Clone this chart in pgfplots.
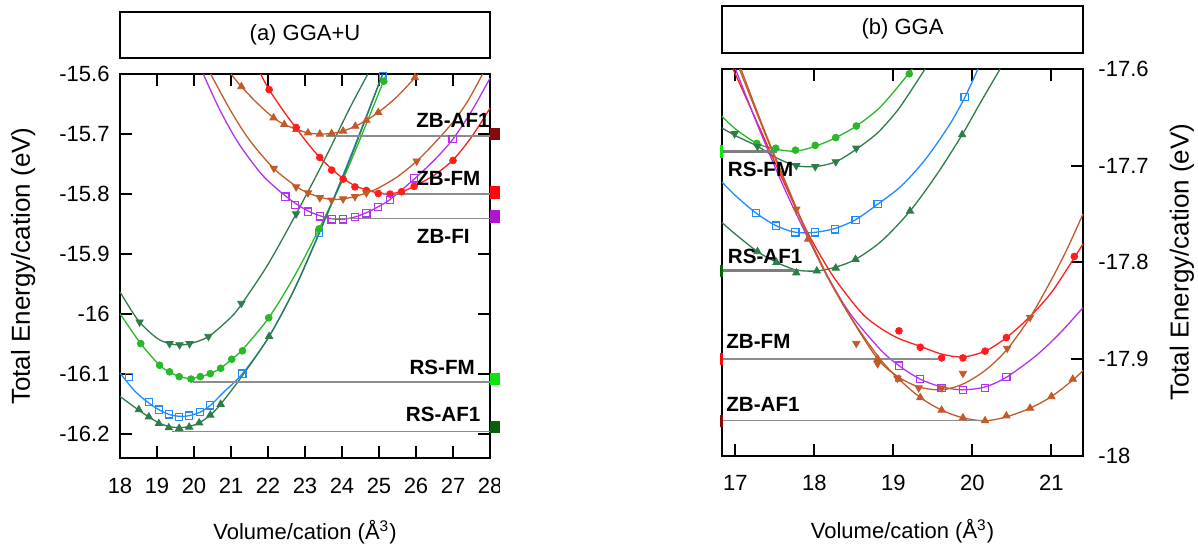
\documentclass[border=0pt]{standalone}
\usepackage{pgfplots}
\pgfplotsset{compat=1.18}
\usepackage{fontspec}
\setmainfont{Liberation Sans}
\definecolor{cgreen}{RGB}{40,185,40}
\definecolor{cdgreen}{RGB}{45,125,75}
\definecolor{cblue}{RGB}{30,140,255}
\definecolor{cred}{RGB}{255,30,30}
\definecolor{cbrown}{RGB}{195,90,40}
\definecolor{cpurple}{RGB}{180,50,240}
\definecolor{cgray}{RGB}{140,140,140}
\definecolor{kdred}{RGB}{130,10,10}
\definecolor{kred}{RGB}{250,10,10}
\definecolor{kpurple}{RGB}{175,20,210}
\definecolor{kgreen}{RGB}{10,230,10}
\definecolor{kdgreen}{RGB}{10,95,10}
\pgfplotsset{
  myax/.style={scale only axis, clip=false,
    axis line style={line width=1pt},
    major tick style={line width=1pt, black},
    major tick length=6pt, tick align=inside,
    /pgf/number format/assume math mode=true,
    ticklabel style={font=\fontsize{11}{13}\selectfont},
    label style={font=\fontsize{11}{13}\selectfont},
    xticklabel style={yshift=-6.5pt},
  },
  ln/.style={line width=0.65pt, smooth, mark=none},
  mc/.style={only marks, mark=*, mark size=1.7pt},
  mu/.style={only marks, mark=triangle*, mark size=2.1pt},
  md/.style={only marks, mark=triangle*, mark size=2.1pt, mark options={rotate=180}},
  ms/.style={only marks, mark=square, mark size=1.8pt, mark options={line width=0.6pt, fill=white}},
  hl/.style={cgray, line width=0.7pt, mark=none},
  hlt/.style={cgray!90!black, line width=1.5pt, mark=none},
}
\tikzset{zbl/.style={font=\bfseries\fontsize{10.3}{12}\selectfont, inner sep=0pt}}
\begin{document}
\begin{tikzpicture}
\path[use as bounding box] (0pt,0pt) rectangle (599pt,274pt);
% ---------------- (a) GGA+U ----------------
\begin{axis}[myax, at={(60pt,44.85pt)}, anchor=south west, width=185pt, height=192.15pt,
  xmin=18, xmax=28, ymin=-16.24, ymax=-15.6,
  xtick={18,19,20,21,22,23,24,25,26,27,28},
  xticklabels={18,19,20,21,22,23,24,25,26,27,28},
  ytick={-16.2,-16.1,-16,-15.9,-15.8,-15.7,-15.6},
  yticklabels={-16.2,-16.1,-16,-15.9,-15.8,-15.7,-15.6},
  xtick pos=both, ytick pos=both, xticklabel pos=bottom, yticklabel pos=left,
  yticklabel style={xshift=-1.7pt},
  xlabel={Volume/cation (Å\textsuperscript{3})},
  xlabel style={at={(axis description cs:0.5,-0.193)}, anchor=center},
  ylabel={Total Energy/cation (eV)},
  ylabel style={at={(axis description cs:-0.262,0.5)}, anchor=center, font=\fontsize{13}{15}\selectfont},
]
% RS-AF2 (dark green, down triangles)
\addplot[cdgreen, ln] coordinates {(18.0,-15.963)(18.5,-16.011)(19.0,-16.040)(19.34,-16.049)(19.61,-16.051)(19.9,-16.049)(20.4,-16.037)(21.0,-16.005)(21.3,-15.982)(22.0,-15.917)(22.76,-15.833)(23.5,-15.746)(24.2,-15.658)(24.7,-15.6)};
\addplot[cdgreen, md] coordinates {(18.53,-16.013)(19.34,-16.049)(19.61,-16.051)(19.88,-16.049)(20.39,-16.037)(21.28,-15.982)(22.76,-15.833)};
% RS-FM (green circles)
\addplot[cgreen, ln] coordinates {(18.0,-15.999)(18.56,-16.049)(19.07,-16.085)(19.34,-16.096)(19.6,-16.104)(19.92,-16.107)(20.17,-16.104)(20.44,-16.099)(20.72,-16.09)(21.02,-16.075)(21.31,-16.059)(22.02,-16.006)(22.7,-15.938)(23.38,-15.858)(24.2,-15.751)(25.2,-15.6)};
\addplot[cgreen, mc] coordinates {(18.56,-16.049)(19.07,-16.085)(19.34,-16.096)(19.6,-16.104)(19.92,-16.108)(20.17,-16.104)(20.44,-16.099)(20.72,-16.09)(21.02,-16.075)(21.31,-16.061)(22.02,-16.006)(23.38,-15.858)(25.13,-15.612)};
% blue squares
\addplot[cblue, ln] coordinates {(18.0,-16.098)(18.4,-16.128)(18.78,-16.148)(19.05,-16.159)(19.33,-16.167)(19.6,-16.170)(19.87,-16.169)(20.17,-16.163)(20.44,-16.152)(20.8,-16.130)(21.31,-16.099)(22.0,-16.040)(22.7,-15.960)(23.38,-15.866)(24.2,-15.742)(25.1,-15.6)};
\addplot[cblue, ms] coordinates {(18.24,-16.105)(18.78,-16.146)(19.05,-16.159)(19.33,-16.167)(19.6,-16.171)(19.87,-16.169)(20.17,-16.163)(20.44,-16.152)(21.31,-16.099)(23.38,-15.865)(25.1,-15.603)};
% RS-AF1 (dark green, up triangles)
\addplot[cdgreen, ln] coordinates {(18.0,-16.137)(18.51,-16.160)(18.78,-16.171)(19.05,-16.181)(19.32,-16.187)(19.6,-16.189)(19.87,-16.187)(20.14,-16.181)(20.44,-16.168)(20.72,-16.150)(21.3,-16.103)(22.03,-16.037)(22.7,-15.960)(23.4,-15.862)(24.2,-15.745)(25.1,-15.6)};
\addplot[cdgreen, mu] coordinates {(18.51,-16.159)(18.78,-16.171)(19.05,-16.182)(19.32,-16.189)(19.6,-16.190)(19.87,-16.188)(20.14,-16.181)(20.44,-16.168)(20.72,-16.150)(22.03,-16.037)};
% ZB-AF1 (brown, up triangles)
\addplot[cbrown, ln] coordinates {(21.0,-15.6)(21.28,-15.621)(21.7,-15.648)(22.15,-15.673)(22.44,-15.684)(22.77,-15.692)(23.08,-15.698)(23.4,-15.700)(23.72,-15.699)(24.03,-15.695)(24.36,-15.687)(24.66,-15.677)(25.0,-15.663)(25.5,-15.637)(26.06,-15.6)};
\addplot[cbrown, mu] coordinates {(21.28,-15.621)(22.15,-15.673)(22.44,-15.684)(22.77,-15.692)(23.08,-15.698)(23.4,-15.700)(23.72,-15.699)(24.03,-15.695)(24.36,-15.687)(24.66,-15.677)(24.98,-15.664)(25.97,-15.606)};
% ZB-FM (red circles)
\addplot[cred, ln] coordinates {(21.8,-15.6)(22.03,-15.626)(22.4,-15.660)(22.76,-15.690)(23.08,-15.716)(23.40,-15.739)(23.72,-15.758)(24.03,-15.774)(24.35,-15.786)(24.66,-15.793)(24.98,-15.798)(25.3,-15.799)(25.61,-15.796)(25.95,-15.787)(26.5,-15.768)(27.0,-15.743)(27.5,-15.705)(28.0,-15.657)};
\addplot[cred, mc] coordinates {(22.03,-15.626)(22.76,-15.689)(23.40,-15.739)(23.72,-15.760)(24.03,-15.775)(24.35,-15.788)(24.66,-15.794)(24.98,-15.799)(25.30,-15.800)(25.61,-15.796)(25.95,-15.787)(27.0,-15.744)};
% brown down triangles
\addplot[cbrown, ln] coordinates {(20.45,-15.6)(21.0,-15.662)(21.5,-15.710)(22.15,-15.757)(22.76,-15.787)(23.08,-15.798)(23.40,-15.805)(23.72,-15.809)(24.03,-15.808)(24.35,-15.804)(24.66,-15.798)(24.98,-15.790)(25.5,-15.771)(26.02,-15.745)(26.5,-15.715)(27.0,-15.680)(27.4,-15.645)(27.8,-15.6)};
\addplot[cbrown, md] coordinates {(22.16,-15.757)(22.76,-15.788)(23.08,-15.798)(23.40,-15.806)(23.72,-15.810)(24.03,-15.808)(24.35,-15.804)(24.66,-15.798)(26.02,-15.745)};
% ZB-FI (purple squares)
\addplot[cpurple, ln] coordinates {(20.25,-15.6)(20.7,-15.66)(21.2,-15.715)(21.8,-15.765)(22.2,-15.789)(22.47,-15.803)(22.73,-15.815)(23.08,-15.828)(23.40,-15.836)(23.72,-15.841)(24.03,-15.842)(24.35,-15.838)(24.66,-15.831)(24.98,-15.821)(25.30,-15.809)(25.95,-15.775)(26.5,-15.743)(26.99,-15.709)(27.5,-15.662)(28.0,-15.607)};
\addplot[cpurple, ms] coordinates {(22.47,-15.804)(22.73,-15.818)(23.08,-15.829)(23.40,-15.837)(23.72,-15.842)(24.03,-15.842)(24.35,-15.838)(24.66,-15.832)(24.98,-15.821)(25.30,-15.810)(25.95,-15.774)(26.99,-15.708)};
% reference lines
\addplot[hl] coordinates {(23.58,-15.703)(28,-15.703)};
\addplot[hl] coordinates {(25.1,-15.800)(28,-15.800)};
\addplot[hl] coordinates {(23.7,-15.841)(28,-15.841)};
\addplot[hl] coordinates {(19.96,-16.113)(28,-16.113)};
\addplot[hl] coordinates {(19.41,-16.195)(28,-16.195)};
% edge keys
\addplot[only marks, mark=square*, mark size=2.9pt, kdred, mark options={xshift=2.9pt}] coordinates {(28,-15.700)};
\addplot[only marks, mark=square*, mark size=2.9pt, kred, mark options={xshift=2.9pt}] coordinates {(28,-15.797)};
\addplot[only marks, mark=square*, mark size=2.9pt, kpurple, mark options={xshift=2.9pt}] coordinates {(28,-15.837)};
\addplot[only marks, mark=square*, mark size=2.9pt, kgreen, mark options={xshift=2.9pt}] coordinates {(28,-16.108)};
\addplot[only marks, mark=square*, mark size=2.9pt, kdgreen, mark options={xshift=2.9pt}] coordinates {(28,-16.188)};
\node[zbl, anchor=east] at (axis cs:28.0,-15.677) {ZB-AF1};
\node[zbl, anchor=east] at (axis cs:27.75,-15.774) {ZB-FM};
\node[zbl, anchor=east] at (axis cs:27.46,-15.870) {ZB-FI};
\node[zbl, anchor=east] at (axis cs:27.6,-16.089) {RS-FM};
\node[zbl, anchor=east] at (axis cs:27.75,-16.167) {RS-AF1};
\end{axis}
% ---------------- (b) GGA ----------------
\begin{axis}[myax, at={(361pt,46.25pt)}, anchor=south west, width=180.5pt, height=193.25pt,
  xmin=16.83, xmax=21.40, ymin=-18, ymax=-17.6,
  xtick={17,18,19,20,21}, xticklabels={17,18,19,20,21},
  ytick={-18,-17.9,-17.8,-17.7,-17.6},
  yticklabels={-18,-17.9,-17.8,-17.7,-17.6},
  xtick pos=both, xticklabel pos=bottom, ytick pos=right, yticklabel pos=right,
  yticklabel style={xshift=4.2pt},
  xlabel={Volume/cation (Å\textsuperscript{3})},
  xlabel style={at={(axis description cs:0.5,-0.195)}, anchor=center},
  ylabel={Total Energy/cation (eV)},
  ylabel style={at={(axis description cs:1.274,0.5)}, anchor=center, font=\fontsize{13}{15}\selectfont},
]
% RS-FM green circles
\addplot[cgreen, ln] coordinates {(16.83,-17.649)(17.0,-17.662)(17.27,-17.677)(17.51,-17.683)(17.76,-17.685)(18.01,-17.680)(18.27,-17.671)(18.53,-17.659)(18.8,-17.642)(19.0,-17.624)(19.2,-17.604)(19.24,-17.6)};
\addplot[cgreen, mc] coordinates {(17.27,-17.677)(17.51,-17.682)(17.76,-17.684)(18.01,-17.679)(18.27,-17.671)(18.53,-17.659)(19.20,-17.605)};
% dark green down triangles
\addplot[cdgreen, ln] coordinates {(16.83,-17.661)(17.0,-17.669)(17.28,-17.680)(17.52,-17.692)(17.77,-17.700)(18.01,-17.701)(18.27,-17.696)(18.53,-17.683)(18.8,-17.666)(19.05,-17.643)(19.25,-17.619)(19.40,-17.6)};
\addplot[cdgreen, md] coordinates {(16.99,-17.667)(17.28,-17.680)(17.77,-17.700)(18.01,-17.701)(18.27,-17.696)(18.53,-17.682)};
% blue squares
\addplot[cblue, ln] coordinates {(16.83,-17.717)(17.0,-17.731)(17.26,-17.749)(17.51,-17.762)(17.76,-17.769)(18.01,-17.769)(18.26,-17.765)(18.52,-17.756)(18.80,-17.740)(19.1,-17.721)(19.4,-17.694)(19.7,-17.659)(19.9,-17.630)(20.07,-17.6)};
\addplot[cblue, ms] coordinates {(17.26,-17.749)(17.51,-17.762)(17.76,-17.769)(18.01,-17.769)(18.26,-17.766)(18.52,-17.756)(18.80,-17.740)(19.90,-17.629)};
% RS-AF1 dark green up triangles
\addplot[cdgreen, ln] coordinates {(16.83,-17.759)(17.0,-17.771)(17.28,-17.789)(17.52,-17.800)(17.77,-17.808)(18.03,-17.809)(18.27,-17.805)(18.52,-17.797)(18.85,-17.778)(19.21,-17.747)(19.55,-17.709)(19.87,-17.668)(20.1,-17.635)(20.35,-17.6)};
\addplot[cdgreen, mu] coordinates {(17.28,-17.789)(17.52,-17.800)(17.77,-17.811)(18.03,-17.809)(18.27,-17.806)(18.52,-17.797)(19.21,-17.747)(19.87,-17.668)};
% ZB-FM red circles
\addplot[cred, ln] coordinates {(16.97,-17.6)(17.3,-17.66)(17.6,-17.715)(17.9,-17.767)(18.2,-17.81)(18.45,-17.838)(18.64,-17.856)(18.85,-17.869)(19.07,-17.879)(19.34,-17.887)(19.61,-17.895)(19.88,-17.898)(20.16,-17.892)(20.43,-17.878)(20.73,-17.856)(21.02,-17.829)(21.40,-17.781)};
\addplot[cred, mc] coordinates {(19.07,-17.871)(19.34,-17.888)(19.61,-17.899)(19.88,-17.899)(20.16,-17.892)(20.43,-17.878)(21.29,-17.794)};
% purple squares
\addplot[cpurple, ln] coordinates {(17.0,-17.6)(17.3,-17.662)(17.6,-17.72)(17.9,-17.772)(18.17,-17.815)(18.45,-17.853)(18.83,-17.89)(19.07,-17.907)(19.34,-17.921)(19.61,-17.929)(19.88,-17.932)(20.16,-17.929)(20.43,-17.919)(20.8,-17.897)(21.1,-17.874)(21.40,-17.847)};
\addplot[cpurple, ms] coordinates {(19.07,-17.907)(19.34,-17.921)(19.61,-17.930)(19.88,-17.932)(20.16,-17.930)(20.43,-17.919)};
% ZB-AF1 brown up triangles
\addplot[cbrown, ln] coordinates {(17.07,-17.6)(17.35,-17.66)(17.65,-17.72)(17.92,-17.772)(18.2,-17.82)(18.5,-17.862)(18.83,-17.900)(19.07,-17.921)(19.34,-17.940)(19.61,-17.953)(19.88,-17.961)(20.16,-17.964)(20.43,-17.960)(20.73,-17.951)(21.0,-17.939)(21.27,-17.922)(21.40,-17.912)};
\addplot[cbrown, mu] coordinates {(17.92,-17.776)(18.80,-17.900)(19.07,-17.921)(19.34,-17.940)(19.61,-17.953)(19.88,-17.961)(20.16,-17.964)(20.43,-17.959)(20.73,-17.951)(21.00,-17.939)(21.27,-17.921)};
% brown down triangles
\addplot[cbrown, ln] coordinates {(17.05,-17.6)(17.4,-17.672)(17.77,-17.745)(18.1,-17.805)(18.45,-17.856)(18.80,-17.900)(19.05,-17.918)(19.32,-17.929)(19.61,-17.932)(19.88,-17.926)(20.16,-17.912)(20.43,-17.891)(20.73,-17.857)(21.0,-17.818)(21.2,-17.786)(21.40,-17.750)};
\addplot[cbrown, md] coordinates {(17.77,-17.745)(18.53,-17.884)(18.80,-17.905)(19.05,-17.920)(19.32,-17.930)(19.61,-17.930)(19.88,-17.915)(20.44,-17.889)(20.73,-17.857)};
% reference lines
\addplot[hlt] coordinates {(16.83,-17.685)(17.53,-17.685)};
\addplot[hlt] coordinates {(16.83,-17.809)(17.81,-17.809)};
\addplot[hl] coordinates {(16.83,-17.900)(19.57,-17.900)};
\addplot[hl] coordinates {(16.83,-17.964)(20.11,-17.964)};
% edge keys
\addplot[only marks, mark=square*, mark size=2.9pt, kgreen, mark options={xshift=-2.9pt}] coordinates {(16.83,-17.685)};
\addplot[only marks, mark=square*, mark size=2.9pt, kdgreen, mark options={xshift=-2.9pt}] coordinates {(16.83,-17.809)};
\addplot[only marks, mark=square*, mark size=2.9pt, kred, mark options={xshift=-2.9pt}] coordinates {(16.83,-17.900)};
\addplot[only marks, mark=square*, mark size=2.9pt, kdred, mark options={xshift=-2.9pt}] coordinates {(16.83,-17.964)};
\node[zbl, anchor=west] at (axis cs:16.90,-17.704) {RS-FM};
\node[zbl, anchor=west] at (axis cs:16.90,-17.794) {RS-AF1};
\node[zbl, anchor=west] at (axis cs:16.88,-17.882) {ZB-FM};
\node[zbl, anchor=west] at (axis cs:16.88,-17.947) {ZB-AF1};
\end{axis}
% crop between the two panels
\fill[white] (249.75pt,0pt) rectangle (359.75pt,274pt);
% title boxes
\draw[line width=1pt] (60pt,245.2pt) rectangle (245pt,268.25pt);
\node[font=\fontsize{11}{13}\selectfont] at (152.5pt,256.7pt) {(a) GGA+U};
\draw[line width=1pt] (361pt,247.5pt) rectangle (541.5pt,271.25pt);
\node[font=\fontsize{11}{13}\selectfont] at (451.25pt,259.4pt) {(b) GGA};
\end{tikzpicture}
\end{document}
